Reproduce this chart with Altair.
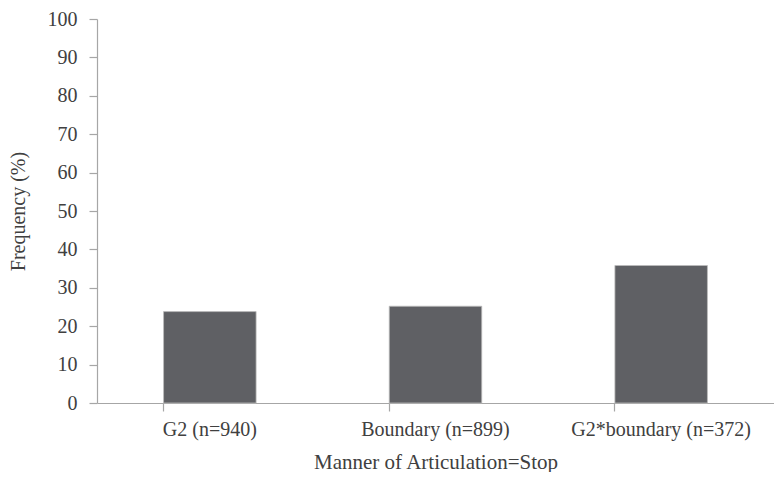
import altair as alt
import pandas as pd

categories = ["G2 (n=940)", "Boundary (n=899)", "G2*boundary (n=372)"]
values = [23.8, 25.2, 35.8]
y_ticks = [0, 10, 20, 30, 40, 50, 60, 70, 80, 90, 100]

df = pd.DataFrame({"cat": categories, "freq": values})

FONT = "Liberation Serif"
TEXT = "#404040"
AXIS = "#a6a6a6"

chart = alt.Chart(df).mark_bar(color="#5f6064", stroke="#bdbdbd", strokeWidth=0.8).encode(
    x=alt.X(
        "cat:N",
        sort=categories,
        title="Manner of Articulation=Stop",
        scale=alt.Scale(paddingInner=0.59, paddingOuter=0.295),
        axis=alt.Axis(
            labelAngle=0,
            bandPosition=0,
            tickSize=8,
            labelPadding=8,
            titlePadding=12,
            labelFontSize=20,
            titleFontSize=21,
        ),
    ),
    y=alt.Y(
        "freq:Q",
        title="Frequency (%)",
        scale=alt.Scale(domain=[0, 100], nice=False),
        axis=alt.Axis(
            values=y_ticks,
            tickSize=8,
            labelPadding=12,
            titlePadding=19,
            labelFontSize=20,
            titleFontSize=20,
            grid=False,
        ),
    ),
).properties(
    width=677,
    height=384,
    autosize=alt.AutoSizeParams(type="none"),
    padding={"left": 89, "top": 11, "right": 0, "bottom": 69},
).configure_view(
    stroke=None
).configure_axis(
    labelFont=FONT,
    titleFont=FONT,
    labelColor=TEXT,
    titleColor=TEXT,
    titleFontWeight="normal",
    domainColor=AXIS,
    tickColor=AXIS,
    domainWidth=1.2,
    tickWidth=1.2,
)

chart.save("out.html", embed_options={"renderer": "svg", "actions": False})
